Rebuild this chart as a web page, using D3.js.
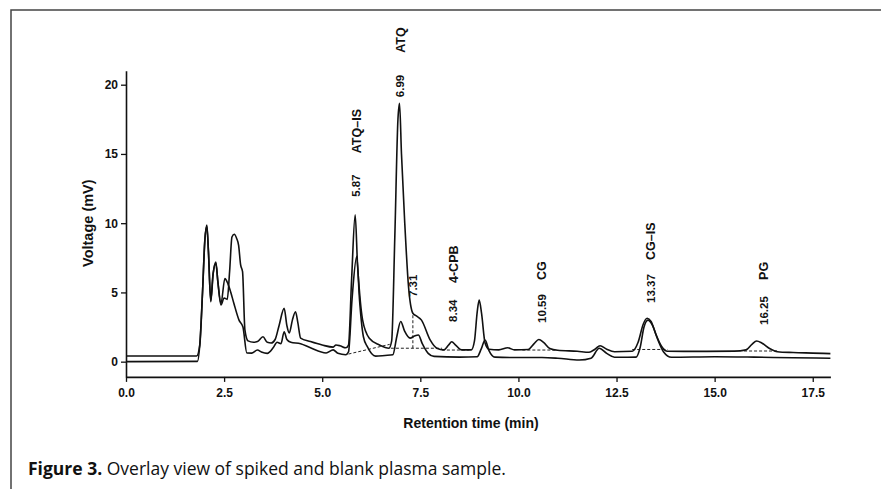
<!DOCTYPE html>
<html>
<head>
<meta charset="utf-8">
<script src="https://cdn.jsdelivr.net/npm/d3@7"></script>
<style>
    body { margin: 0; background: #fff; }
    svg text { font-family: "Liberation Sans", Arial, Helvetica, sans-serif; fill: #111; }
</style>
</head>
<body>
<svg id="chart" width="881" height="489"></svg>
<script>
// spiked plasma trace: [retention time (min), voltage (mV)]
const spiked = [
    [0, 0.41], [1.80, 0.41], [1.88, 1.2], [1.95, 5.0], [2.01, 8.8], [2.06, 9.86], [2.10, 8.0],
    [2.16, 4.33], [2.22, 6.3], [2.29, 7.2], [2.34, 5.8], [2.42, 4.1], [2.50, 4.6], [2.58, 4.5],
    [2.64, 6.5], [2.70, 9.0], [2.76, 9.2], [2.82, 8.9], [2.87, 8.4], [2.92, 7.0], [2.97, 6.5],
    [3.03, 2.3], [3.11, 1.5], [3.25, 1.4], [3.35, 1.45], [3.49, 1.8], [3.60, 1.4], [3.70, 1.35],
    [3.80, 1.6], [3.90, 2.6], [4.03, 3.85], [4.10, 2.6], [4.16, 2.07], [4.24, 3.0], [4.32, 3.6],
    [4.38, 2.8], [4.45, 1.7], [4.70, 1.45], [5.00, 1.2], [5.28, 1.05], [5.35, 1.2], [5.45, 1.15],
    [5.60, 1.0], [5.67, 1.2], [5.75, 6.0], [5.84, 10.6], [5.90, 7.0], [5.94, 5.4], [6.03, 3.0],
    [6.20, 1.69], [6.46, 1.2], [6.70, 0.97], [6.77, 1.5], [6.85, 9.0], [6.93, 17.5], [6.97, 18.65],
    [7.02, 15.0], [7.10, 10.2], [7.20, 5.4], [7.31, 3.5], [7.40, 3.3], [7.53, 3.0], [7.75, 1.57],
    [7.92, 0.97], [8.10, 0.85], [8.22, 1.2], [8.30, 1.44], [8.40, 1.2], [8.55, 0.85], [8.80, 0.85],
    [8.88, 1.5], [8.95, 3.6], [9.00, 4.45], [9.06, 3.5], [9.15, 1.35], [9.25, 0.9], [9.50, 0.85],
    [9.73, 1.0], [9.90, 0.85], [10.25, 0.88], [10.40, 1.3], [10.52, 1.6], [10.64, 1.4], [10.80, 0.95],
    [11.00, 0.82], [11.50, 0.75], [11.80, 0.68], [11.95, 0.9], [12.08, 1.15], [12.25, 0.9],
    [12.45, 0.72], [12.90, 0.75], [13.05, 1.4], [13.18, 2.7], [13.28, 3.13], [13.38, 2.9],
    [13.50, 2.0], [13.65, 1.1], [13.80, 0.75], [14.50, 0.74], [15.50, 0.76], [15.80, 0.85],
    [15.95, 1.25], [16.07, 1.49], [16.20, 1.35], [16.40, 0.95], [16.60, 0.72], [17.00, 0.66],
    [17.50, 0.62], [17.95, 0.58]
];

// blank plasma trace
const blank = [
    [0, 0.0], [1.82, 0.02], [1.88, 1.2], [1.95, 5.0], [2.01, 8.8], [2.06, 9.75], [2.10, 8.0],
    [2.16, 4.4], [2.22, 6.4], [2.29, 7.1], [2.34, 5.8], [2.42, 4.2], [2.52, 6.0], [2.60, 5.6],
    [2.65, 5.2], [2.75, 4.2], [2.88, 3.0], [2.98, 2.5], [3.08, 0.63], [3.20, 0.62], [3.35, 0.84],
    [3.45, 0.7], [3.60, 0.6], [3.75, 1.0], [3.85, 1.4], [3.95, 1.3], [4.03, 2.16], [4.10, 1.6],
    [4.20, 1.4], [4.45, 1.3], [4.70, 1.0], [5.10, 0.63], [5.28, 0.85], [5.40, 0.6], [5.60, 0.5],
    [5.67, 0.7], [5.76, 4.5], [5.88, 7.6], [5.95, 4.5], [6.05, 1.8], [6.15, 1.08], [6.36, 0.4],
    [6.60, 0.45], [6.80, 0.5], [6.90, 1.8], [7.00, 2.9], [7.10, 2.2], [7.24, 1.7], [7.35, 1.85],
    [7.45, 1.93], [7.55, 1.3], [7.70, 0.6], [7.85, 0.38], [8.50, 0.33], [8.95, 0.36], [9.05, 0.9],
    [9.15, 1.57], [9.25, 0.8], [9.40, 0.33], [10.00, 0.3], [10.60, 0.3], [11.00, 0.25],
    [11.55, 0.12], [11.85, 0.25], [12.06, 0.97], [12.25, 0.6], [12.45, 0.32], [13.00, 0.33],
    [13.10, 1.0], [13.20, 2.5], [13.30, 3.0], [13.42, 2.6], [13.55, 1.6], [13.70, 0.7],
    [13.90, 0.32], [15.00, 0.36], [16.00, 0.33], [17.00, 0.28], [17.95, 0.25]
];

// peak annotations
const peakTimes = [5.87, 6.99, 7.31, 8.34, 10.59, 13.37, 16.25];
const peakNames = ["ATQ–IS", "ATQ", "", "4-CPB", "CG", "CG–IS", "PG"];
const timeLabelAt = [11.9, 19.1, 4.67, 2.87, 2.8, 4.24, 2.65];   // voltage where the time text starts
const nameLabelAt = [15.05, 22.3, null, 5.68, 5.9, 7.34, 5.9];  // voltage where the name starts

// integration baselines: [t1, v1, t2, v2]
const baselines = [
    [5.67, 0.55, 6.72, 1.25], [6.75, 0.97, 8.05, 0.97], [7.31, 0.97, 7.31, 3.45],
    [8.05, 0.84, 8.75, 0.84], [10.1, 0.84, 10.95, 0.84], [12.9, 0.88, 13.8, 0.88],
    [15.75, 0.77, 16.6, 0.77]
];

const timeTicks = [0, 2.5, 5, 7.5, 10, 12.5, 15, 17.5];
const voltTicks = [0, 5, 10, 15, 20];

let svg = d3.select('#chart');

// frame around the figure (top and left edge only)
svg.append('path')
    .attr('d', 'M11,489V10H881')
    .attr('fill', 'none')
    .attr('stroke', '#444')
    .attr('stroke-width', 1.5);

let xScale = d3.scaleLinear().domain([0, 17.95]).range([126, 830.4]);
let yScale = d3.scaleLinear().domain([-1.1, 21]).range([376.9, 70.85]);

let xAxis = d3.axisBottom(xScale)
    .tickValues(timeTicks)
    .tickFormat(d3.format('.1f'))
    .tickSize(5).tickSizeOuter(0).tickPadding(7);
let yAxis = d3.axisLeft(yScale)
    .tickValues(voltTicks)
    .tickFormat(d3.format('d'))
    .tickSize(5).tickSizeOuter(0).tickPadding(3);

let gx = svg.append('g').attr('transform', `translate(0,${yScale(-1.1)})`).call(xAxis);
let gy = svg.append('g').attr('transform', `translate(${xScale(0)},0)`).call(yAxis);

[gx, gy].forEach(g => {
    g.select('.domain').attr('stroke', '#111').attr('stroke-width', 1.6);
    g.selectAll('.tick line').attr('stroke', '#111').attr('stroke-width', 1.3);
    g.selectAll('.tick text')
        .attr('fill', '#111')
        .style('font-family', '"Liberation Sans", Arial, sans-serif')
        .style('font-weight', 'bold')
        .style('font-size', '12px');
});

// axis titles
svg.append('text')
    .attr('transform', `translate(88,${yScale(10)}) rotate(-90)`)
    .attr('text-anchor', 'middle')
    .attr('dy', '0.35em')
    .style('font-weight', 'bold')
    .style('font-size', '14.5px')
    .text('Voltage (mV)');

svg.append('text')
    .attr('x', 471)
    .attr('y', 428)
    .attr('text-anchor', 'middle')
    .style('font-weight', 'bold')
    .style('font-size', '14px')
    .text('Retention time (min)');

// dashed baselines
svg.append('g').selectAll('line')
    .data(baselines)
    .enter().append('line')
    .attr('x1', d => xScale(d[0]))
    .attr('y1', d => yScale(d[1]))
    .attr('x2', d => xScale(d[2]))
    .attr('y2', d => yScale(d[3]))
    .attr('stroke', '#222')
    .attr('stroke-width', 1)
    .attr('stroke-dasharray', '3,2');

// traces
let line = d3.line()
    .x(d => xScale(d[0]))
    .y(d => yScale(d[1]))
    .curve(d3.curveMonotoneX);

svg.append('g').selectAll('path')
    .data([blank, spiked])
    .enter().append('path')
    .attr('d', line)
    .attr('fill', 'none')
    .attr('stroke', '#111')
    .attr('stroke-width', 1.6)
    .attr('stroke-linejoin', 'round');

// peak labels, rotated
let labels = svg.append('g');
peakTimes.forEach((t, i) => {
    labels.append('text')
        .attr('transform', `translate(${xScale(t)},${yScale(timeLabelAt[i])}) rotate(-90)`)
        .attr('dy', '0.35em')
        .style('font-weight', 'bold')
        .style('font-size', '11.5px')
        .text(d3.format('.2f')(t));
    if (peakNames[i]) {
        labels.append('text')
            .attr('transform', `translate(${xScale(t)},${yScale(nameLabelAt[i])}) rotate(-90)`)
            .attr('dy', '0.35em')
            .style('font-weight', 'bold')
            .style('font-size', '12.5px')
            .text(peakNames[i]);
    }
});

// caption
let caption = svg.append('text')
    .attr('x', 28)
    .attr('y', 475)
    .style('font-family', '"Open Sans", "Noto Sans", sans-serif')
    .style('font-size', '17.5px')
    .attr('fill', '#222');
caption.append('tspan').style('font-weight', 'bold').text('Figure 3.');
caption.append('tspan').text(' Overlay view of spiked and blank plasma sample.');
</script>
</body>
</html>
